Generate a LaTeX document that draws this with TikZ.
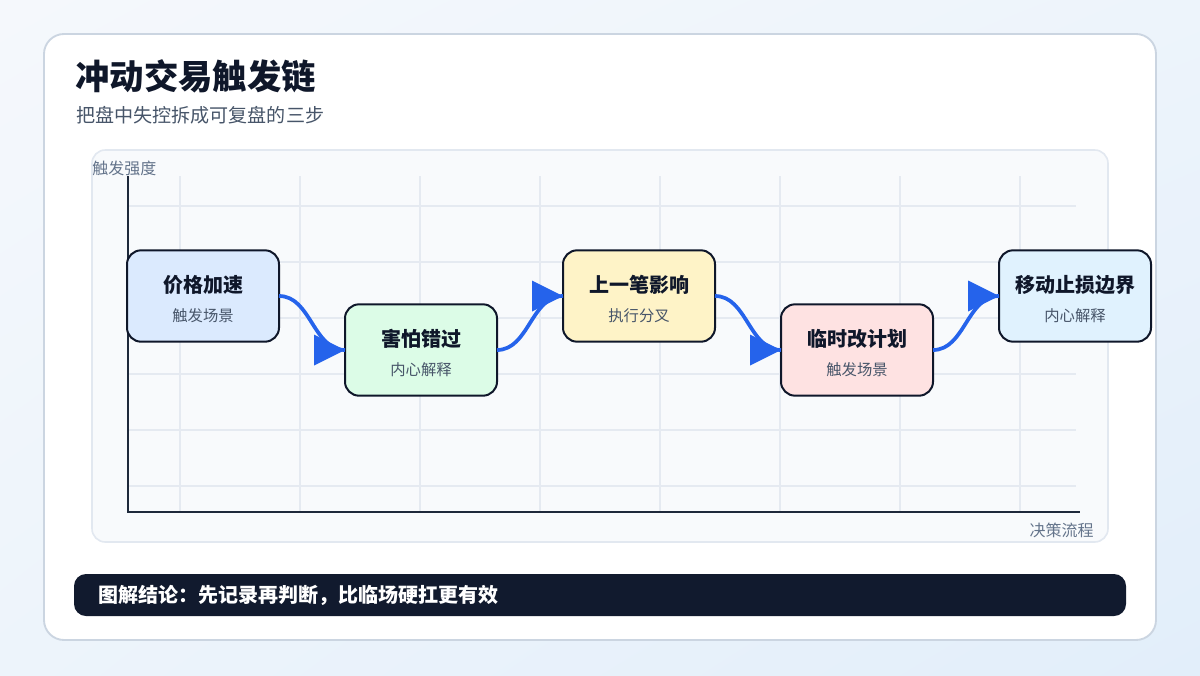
\documentclass[tikz,border=0pt]{standalone}
\usepackage{fontspec}
\setmainfont{Noto Sans CJK SC}
\usetikzlibrary{arrows.meta,shadings}
\definecolor{bgA}{HTML}{F5F8FC}
\definecolor{bgB}{HTML}{EDF4FB}
\definecolor{bgC}{HTML}{E2EEFA}
\definecolor{cardline}{HTML}{CBD5E1}
\definecolor{ink}{HTML}{0F172A}
\definecolor{slate}{HTML}{475569}
\definecolor{muted}{HTML}{64748B}
\definecolor{panel}{HTML}{F8FAFC}
\definecolor{panelline}{HTML}{E2E8F0}
\definecolor{gridc}{HTML}{E5EAF1}
\definecolor{axisc}{HTML}{1E293B}
\definecolor{flowblue}{HTML}{2563EB}
\definecolor{fillA}{HTML}{DBEAFE}
\definecolor{fillB}{HTML}{DCFCE7}
\definecolor{fillC}{HTML}{FEF3C7}
\definecolor{fillD}{HTML}{FEE2E2}
\definecolor{fillE}{HTML}{E0F2FE}
\definecolor{barc}{HTML}{111A2E}
\tikzset{
  gridline/.style={draw=gridc, line width=1.1pt},
  axisline/.style={draw=axisc, line width=2.2pt},
  stepbox/.style={draw=ink, line width=1.5pt, rounded corners=10.5pt,
    minimum width=114pt, minimum height=68.5pt, inner sep=0pt, outer sep=0pt},
  boxtitle/.style={font=\bfseries\fontsize{15}{18}\selectfont, text=ink, inner sep=0pt},
  boxsub/.style={font=\fontsize{11.5}{14}\selectfont, text=slate, inner sep=0pt},
  axislabel/.style={font=\fontsize{12}{14}\selectfont, text=muted, inner sep=0pt},
  flow/.style={draw=flowblue, line width=2.8pt},
  tiphead/.style={fill=flowblue},
}
\begin{document}
\begin{tikzpicture}[x=0.75pt,y=-0.75pt]
\useasboundingbox (0,0) rectangle (1200,675);
\shade[upper left=bgA, upper right=bgB, lower left=bgB, lower right=bgC] (0,0) rectangle (1200,675);
% card
\draw[fill=white, draw=cardline, line width=1.4pt, rounded corners=15pt] (44,34) rectangle (1156,640);
% title
\node[anchor=west, inner sep=0pt, font=\bfseries\fontsize{25.8}{30}\selectfont, text=ink] (title) at (75,76) {冲动交易触发链};
\node[anchor=west, inner sep=0pt, font=\fontsize{14.3}{16}\selectfont, text=slate] (subtitle) at (76,115) {把盘中失控拆成可复盘的三步};
% panel
\draw[fill=panel, draw=panelline, line width=1.2pt, rounded corners=10pt] (92,150) rectangle (1108,542);
\foreach \x in {180,300,...,1020} \draw[gridline] (\x,176) -- (\x,512);
\foreach \y in {206,262,...,486} \draw[gridline] (128,\y) -- (1076,\y);
\draw[axisline] (128,176) -- (128,512) -- (1080,512);
\node[axislabel, anchor=west] (ylab) at (92,168) {触发强度};
\node[axislabel, anchor=east] (xlab) at (1094,530) {决策流程};
% step boxes
\node[stepbox, fill=fillA] (n1) at (203,296) {};
\node[stepbox, fill=fillB] (n2) at (421,350) {};
\node[stepbox, fill=fillC] (n3) at (639,296) {};
\node[stepbox, fill=fillD] (n4) at (857,350) {};
\node[stepbox, fill=fillE] (n5) at (1075,296) {};
\node[boxtitle] (t1) at ([yshift=8.25pt]n1.center) {价格加速};
\node[boxsub]   (s1) at ([yshift=-15pt]n1.center) {触发场景};
\node[boxtitle] (t2) at ([yshift=8.25pt]n2.center) {害怕错过};
\node[boxsub]   (s2) at ([yshift=-15pt]n2.center) {内心解释};
\node[boxtitle] (t3) at ([yshift=8.25pt]n3.center) {上一笔影响};
\node[boxsub]   (s3) at ([yshift=-15pt]n3.center) {执行分叉};
\node[boxtitle] (t4) at ([yshift=8.25pt]n4.center) {临时改计划};
\node[boxsub]   (s4) at ([yshift=-15pt]n4.center) {触发场景};
\node[boxtitle] (t5) at ([yshift=8.25pt]n5.center) {移动止损边界};
\node[boxsub]   (s5) at ([yshift=-15pt]n5.center) {内心解释};
% connectors
\draw[flow] (n1.east) .. controls +(32,0) and +(-32,0) .. (n2.west);
\draw[flow] (n2.east) .. controls +(32,0) and +(-32,0) .. (n3.west);
\draw[flow] (n3.east) .. controls +(32,0) and +(-32,0) .. (n4.west);
\draw[flow] (n4.east) .. controls +(32,0) and +(-32,0) .. (n5.west);
% arrowheads
\foreach \n in {n2,n3,n4,n5}
  \fill[tiphead] (\n.west) -- ++(-31,-15.5) -- ++(0,31) -- cycle;
% conclusion bar
\fill[barc, rounded corners=9pt] (74,574) rectangle (1126,616);
\node[anchor=west, inner sep=0pt, font=\bfseries\fontsize{15}{18}\selectfont, text=white] (concl) at (98,595) {图解结论：先记录再判断，比临场硬扛更有效};
\end{tikzpicture}
\end{document}
